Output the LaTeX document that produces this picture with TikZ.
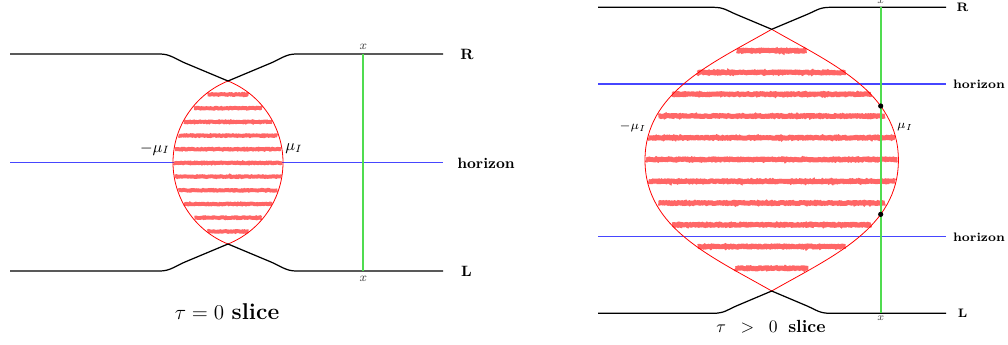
\documentclass[tikz,border=0pt]{standalone}
\usetikzlibrary{decorations.pathmorphing,intersections}
\definecolor{hatchred}{RGB}{255,102,102}
\definecolor{linegreen}{RGB}{80,220,80}
\definecolor{hblue}{RGB}{70,70,255}
\begin{document}
\begin{tikzpicture}[x=0.02cm,y=-0.02cm,
  brane/.style={draw=black,line width=0.7pt},
  hor/.style={draw=hblue,line width=0.6pt},
  slicecut/.style={draw=linegreen,line width=1.1pt},
  lens/.style={draw=red,line width=0.45pt},
  hatchA/.style={draw=hatchred,line width=2.2pt,decorate,decoration={random steps,segment length=0.6pt,amplitude=0.25pt}},
  hatchB/.style={draw=hatchred,line width=2.8pt,decorate,decoration={random steps,segment length=0.6pt,amplitude=0.3pt}},
  lblA/.style={inner sep=0pt,font=\fontsize{9}{10}\selectfont},
  lblB/.style={inner sep=0pt,font=\fontsize{7.3}{8}\selectfont},
  xlbl/.style={inner sep=0pt,font=\fontsize{7}{8}\selectfont,text=black!75},
  dot/.style={fill=black}]
\pgfmathsetseed{7}
\useasboundingbox (0,0) rectangle (1008,345);

% ================= left: tau = 0 =================
\coordinate (hAl) at (10,162.8); \coordinate (hAr) at (443,162.8);
\draw[hor] (hAl) -- (hAr);
\foreach \yy/\ww in {94.5/20.5,108.2/34,121.9/44,135.6/49.5,149.2/53,162.9/54,176.6/53,190.3/49.5,204/44,217.7/33.5,231.4/20.5}{
  \draw[hatchA] (228-\ww,\yy) -- (228+\ww,\yy);
}
\coordinate (cAt) at (228,81); \coordinate (cAb) at (228,244);
\draw[lens] (cAt) .. controls (194.8,94.4) and (173,126.7) .. (173,162.5)
  .. controls (173,198.3) and (194.8,230.6) .. (cAb)
  .. controls (261.2,230.6) and (283,198.3) .. (283,162.5)
  .. controls (283,126.7) and (261.2,94.4) .. (cAt) -- cycle;
\coordinate (tAl) at (10,54); \coordinate (tAr) at (443,54);
\coordinate (bAl) at (10,271); \coordinate (bAr) at (443,271);
\draw[brane] (tAl) -- (160,54) .. controls (170,54) and (175,58.8) .. (185,63) -- (cAt)
  -- (271,63) .. controls (281,58.8) and (286,54) .. (296,54) -- (tAr);
\draw[brane] (bAl) -- (160,271) .. controls (170,271) and (175,266.2) .. (185,262) -- (cAb)
  -- (271,262) .. controls (281,266.2) and (286,271) .. (296,271) -- (bAr);
\coordinate (gAt) at (363.3,54); \coordinate (gAb) at (363.3,271);
\draw[slicecut] (gAt) -- (gAb);
\node[xlbl] (xAt) at (363.3,46.5) {$x$};
\node[xlbl] (xAb) at (363.3,279) {$x$};
\node[lblA,font=\fontsize{8.5}{10}\selectfont\bfseries] (RA) at (467,54.5) {R};
\node[lblA,font=\fontsize{8.5}{10}\selectfont\bfseries] (LA) at (466.5,271) {L};
\node[lblA,font=\fontsize{8.5}{10}\selectfont\bfseries] (hzA) at (486,163) {horizon};
\node[lblA] (mmA) at (155,149) {$-\mu_I$};
\node[lblA] (mpA) at (294,149) {$\mu_I$};
\node[inner sep=0pt,font=\fontsize{13}{15}\selectfont] (capA) at (227,312) {$\tau=0$ \textbf{slice}};

% ================= right: tau > 0 =================
\coordinate (hB1l) at (598,84); \coordinate (hB1r) at (946,84);
\coordinate (hB2l) at (598,236.8); \coordinate (hB2r) at (946,236.8);
\draw[hor] (hB1l) -- (hB1r);
\draw[hor] (hB2l) -- (hB2r);
\foreach \yy/\ww in {50.7/35,72.5/74,94.2/99.5,116/113.3,137.7/123.3,159.5/125.7,181.3/123.3,203/113.3,224.8/99.5,246.5/74,268.3/36.6}{
  \draw[hatchB] (771.7-\ww,\yy) -- (771.7+\ww,\yy);
}
\coordinate (cBt) at (771.7,29.3); \coordinate (cBb) at (771.7,291);
\draw[lens,name path=lensR] (cBt) .. controls (712,63.5) and (645,92) .. (645,160.2)
  .. controls (645,228.4) and (712,256.8) .. (cBb)
  .. controls (831.4,256.8) and (898.4,228.4) .. (898.4,160.2)
  .. controls (898.4,92) and (831.4,63.5) .. (cBt) -- cycle;
\coordinate (tBl) at (598,7.3); \coordinate (tBr) at (946,7.3);
\coordinate (bBl) at (598,313.3); \coordinate (bBr) at (946,313.3);
\draw[brane] (tBl) -- (713,7.3) .. controls (724,7.3) and (727,10.5) .. (736,14.3) -- (cBt)
  -- (807.4,14.3) .. controls (816.4,10.5) and (819.4,7.3) .. (830.4,7.3) -- (tBr);
\draw[brane] (bBl) -- (713,313.3) .. controls (724,313.3) and (727,310.1) .. (736,306.1) -- (cBb)
  -- (807.4,306.1) .. controls (816.4,310.1) and (819.4,313.3) .. (830.4,313.3) -- (bBr);
\coordinate (gBt) at (880.7,7.3); \coordinate (gBb) at (880.7,313.3);
\draw[slicecut,name path=greenR] (gBt) -- (gBb);
\fill[dot,name intersections={of=lensR and greenR,name=ip}] (ip-1) circle[radius=2.6] (ip-2) circle[radius=2.6];
\node[xlbl,font=\fontsize{6.5}{7}\selectfont] (xBt) at (880.7,1.5) {$x$};
\node[xlbl,font=\fontsize{6.5}{7}\selectfont] (xBb) at (880.7,318.5) {$x$};
\node[lblB,font=\fontsize{7}{8}\selectfont\bfseries] (RB) at (962.5,7.5) {R};
\node[lblB,font=\fontsize{7}{8}\selectfont\bfseries] (LB) at (962.5,313.5) {L};
\node[lblB,font=\fontsize{7}{8}\selectfont\bfseries] (hzB1) at (979,84.5) {horizon};
\node[lblB,font=\fontsize{7}{8}\selectfont\bfseries] (hzB2) at (979,237.3) {horizon};
\node[lblB] (mmB) at (633,127) {$-\mu_I$};
\node[lblB] (mpB) at (905,127) {$\mu_I$};
\node[inner sep=0pt,font=\fontsize{10}{12}\selectfont] (capB) at (771,327) {$\tau\;\;>\;\;0$\hspace{0.6em}\textbf{slice}};
\end{tikzpicture}
\end{document}
